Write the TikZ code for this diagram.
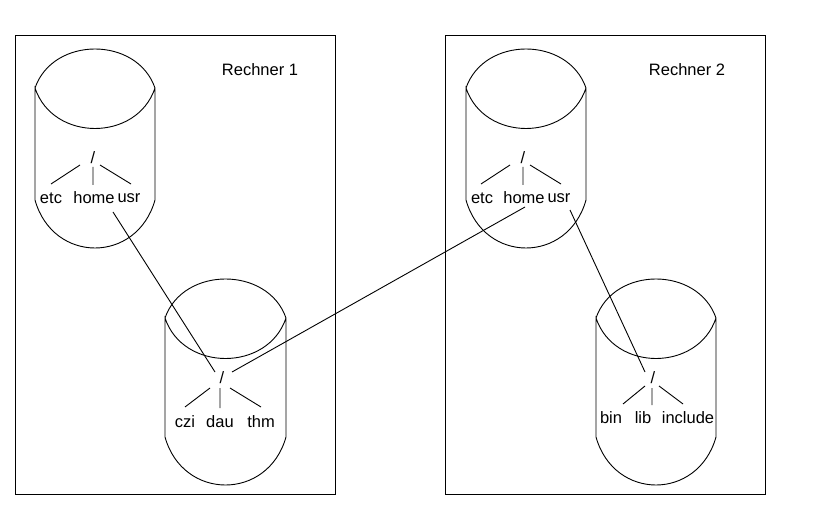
\documentclass[tikz,border=0pt]{standalone}
\usepackage{fontspec}
\setmainfont{Liberation Sans}
\newcommand\mycyl[4]{%
 \draw (#1,#3) .. controls ({#1+18},{#3-52}) and ({#2-18},{#3-52}) .. (#2,#3)
   .. controls ({#2-18},{#3+54}) and ({#1+18},{#3+54}) .. (#1,#3) -- (#1,#4)
   .. controls ({#1+18},{#4+64}) and ({#2-18},{#4+64}) .. (#2,#4) -- (#2,#3);}
\begin{document}
\begin{tikzpicture}[x=1pt,y=-1pt,font=\fontsize{16.5}{18}\selectfont,
  lbl/.style={inner sep=1pt}, line width=0.9pt]
\useasboundingbox (0,0) rectangle (821,510);
\draw (15,35) rectangle (335,494);
\draw (445,35) rectangle (765,494);
\node (r1) at (260,70) {Rechner 1};
\node (r2) at (687,70) {Rechner 2};
\mycyl{35}{155}{88}{200}
\mycyl{165}{286}{318}{437}
\mycyl{466}{586}{88}{200}
\mycyl{596}{716}{318}{437}
% tree 1
\node[lbl] (s1) at (93,158) {/};
\node[lbl] (e1) at (51,198) {etc};
\node[lbl] (h1) at (94,198) {home};
\node[lbl] (u1) at (129,198) {usr};
\draw (80,165) -- (51,184) (93,167) -- (93,185) (100,165) -- (131,184);
% tree 2
\node[lbl] (s2) at (222,378) {/};
\node[lbl] (c2) at (185,422) {czi};
\node[lbl] (d2) at (220,422) {dau};
\node[lbl] (t2) at (261,422) {thm};
\draw (210,388) -- (185,407) (220,388) -- (220,408) (230,388) -- (261,407);
% tree 3
\node[lbl] (s3) at (523,158) {/};
\node[lbl] (e3) at (482,198) {etc};
\node[lbl] (h3) at (524,198) {home};
\node[lbl] (u3) at (559,198) {usr};
\draw (510,165) -- (481,184) (523,167) -- (523,185) (530,165) -- (561,184);
% tree 4
\node[lbl] (s4) at (653,378) {/};
\node[lbl] (b4) at (611,418) {bin};
\node[lbl] (l4) at (643,418) {lib};
\node[lbl] (i4) at (688,418) {include};
\draw (645,386) -- (623,404) (652,388) -- (652,405) (659,386) -- (683,404);
% connectors
\draw (113,212) -- (215,372);
\draw (232,372) -- (525,207);
\draw (570,210) -- (645,372);
\end{tikzpicture}
\end{document}
